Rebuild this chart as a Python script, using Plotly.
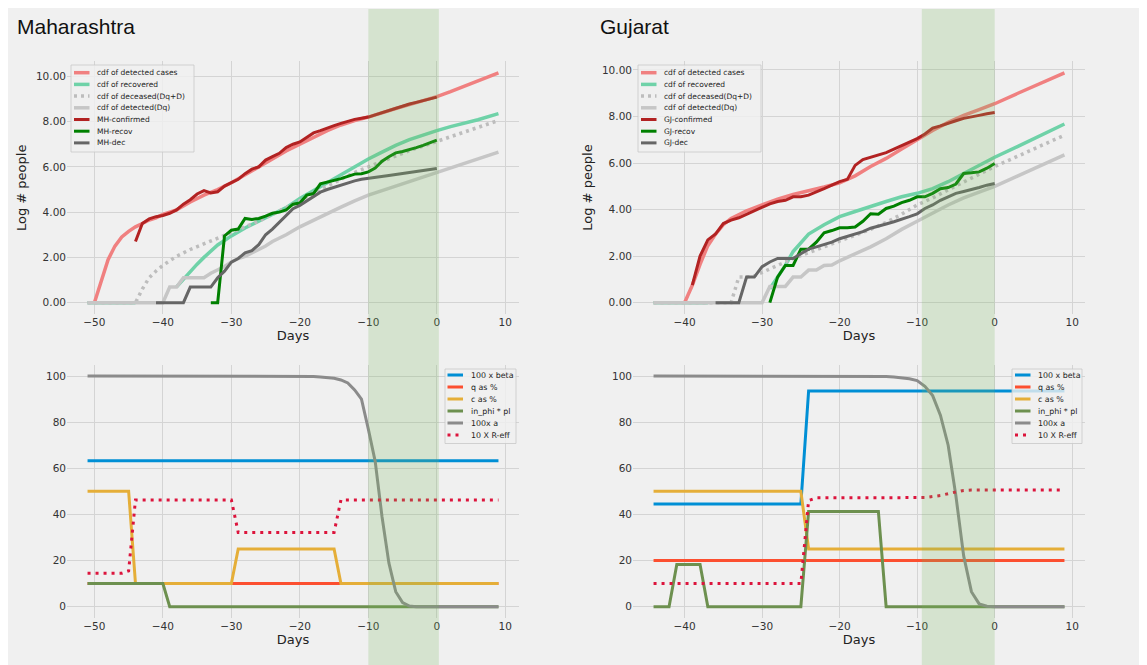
import plotly.graph_objects as go

# The page body has an 8px margin; the figure is laid out in page pixels and shifted by it.
OFF = 8
W, H = 1134, 657
BG = "#f0f0f0"
FONT = "DejaVu Sans"
TXT = "#333333"

# ------------------------------------------------------------------ data
# ---- Maharashtra, top (log # people)
mh_cases_x = [-50, -49, -48, -47, -46, -45, -44, -43, -42, -41, -40, -38, -36, -34, -32, -30, -28, -26, -24, -22,
              -20, -18, -16, -14, -12, -10, -8, -6, -4, -2, 0, 2, 4, 6, 9]
mh_cases_y = [0, 1.0, 1.9, 2.5, 2.9, 3.15, 3.35, 3.5, 3.65, 3.75, 3.9, 4.1, 4.45, 4.75, 5.0, 5.3, 5.65, 6.0, 6.35, 6.7,
              7.0, 7.3, 7.6, 7.85, 8.05, 8.2, 8.4, 8.58, 8.75, 8.92, 9.1, 9.32, 9.55, 9.78, 10.15]

mh_recovered_x = [-51, -44, None, -38, -37, -36, -35, -34, -33, -32, -31, -30, -28, -26, -24, -22, -20, -18, -16,
                  -14, -12, -10, -8, -6, -4, -2, 0, 2, 4, 6, 9]
mh_recovered_y = [0, 0, None, 0.7, 1.05, 1.4, 1.7, 2.0, 2.3, 2.55, 2.75, 2.95, 3.3, 3.6, 3.9, 4.2, 4.6, 4.95, 5.3,
                  5.65, 6.0, 6.35, 6.65, 6.95, 7.2, 7.42, 7.6, 7.78, 7.93, 8.08, 8.35]

mh_deceased_x = [-51, -44, -43, -42, -41, -40, -39, -38, -36, -34, -32, -30, -28, -26, -24, -22, -20, -18, -16, -14,
                 -12, -10, -8, -6, -4, -2, 0, 3, 6, 9]
mh_deceased_y = [0, 0, 0.6, 1.1, 1.4, 1.65, 1.85, 2.05, 2.35, 2.6, 2.85, 3.1, 3.35, 3.6, 3.9, 4.2, 4.5, 4.85, 5.15, 5.45,
                 5.75, 6.0, 6.25, 6.5, 6.72, 6.92, 7.12, 7.45, 7.75, 8.05]

mh_dq_x = [-51, -40, -39, -38, -37, -34, -33, -32, -31, -30, -29, -28, -27, -26, -25, -24, -22, -20, -18, -16, -14,
           -12, -10, -8, -6, -4, -2, 0, 3, 6, 9]
mh_dq_y = [0, 0, 0.69, 0.69, 1.1, 1.1, 1.3, 1.45, 1.6, 1.8, 1.95, 2.05, 2.2, 2.35, 2.5, 2.7, 3.0, 3.35, 3.65, 3.95, 4.22,
           4.5, 4.75, 4.95, 5.15, 5.35, 5.53, 5.71, 6.03, 6.34, 6.65]

mh_confirmed_x = list(range(-44, 1))
mh_confirmed_y = [2.7, 3.5, 3.7, 3.8, 3.85, 3.95, 4.1, 4.35, 4.55, 4.8, 4.95, 4.85, 4.9, 5.15, 5.3, 5.45, 5.7, 5.9,
                  6.0, 6.3, 6.45, 6.6, 6.85, 7.0, 7.1, 7.3, 7.5, 7.6, 7.72, 7.82, 7.92, 8.02, 8.1, 8.15, 8.2, 8.3,
                  8.4, 8.5, 8.6, 8.7, 8.78, 8.85, 8.93, 9.0, 9.08]

mh_recov_x = list(range(-33, 1))
mh_recov_y = [0, 0, 2.95, 3.2, 3.25, 3.72, 3.68, 3.72, 3.82, 3.95, 4.0, 4.1, 4.35, 4.4, 4.75, 4.82, 5.25, 5.32, 5.38,
              5.48, 5.58, 5.68, 5.7, 5.78, 5.95, 6.25, 6.45, 6.62, 6.68, 6.75, 6.85, 6.95, 7.08, 7.18]

mh_dec_x = list(range(-41, 1))
mh_dec_y = [0, 0, 0, 0, 0, 0.69, 0.69, 0.69, 0.69, 1.1, 1.39, 1.79, 1.95, 2.2, 2.3, 2.56, 3.0, 3.25, 3.55, 3.88,
            4.15, 4.3, 4.5, 4.7, 4.88, 5.0, 5.1, 5.2, 5.3, 5.38, 5.45, 5.5, 5.53, 5.57, 5.62, 5.66, 5.7, 5.75, 5.8,
            5.85, 5.89, 5.93]

# ---- Gujarat, top (log # people)
gj_cases_x = [-40, -39, -38, -37, -36, -35, -34, -33, -32, -30, -28, -26, -24, -22, -20, -18, -16, -14, -12, -10, -8,
              -6, -4, -2, 0, 3, 6, 9]
gj_cases_y = [0, 0.75, 1.65, 2.45, 2.95, 3.35, 3.62, 3.8, 3.95, 4.2, 4.45, 4.65, 4.8, 4.97, 5.15, 5.45, 5.85, 6.2,
              6.6, 7.0, 7.4, 7.75, 8.05, 8.3, 8.55, 9.0, 9.45, 9.88]

gj_recovered_x = [-44, -37, None, -29, -28, -27, -26, -25, -24, -22, -20, -18, -16, -14, -12, -10, -8, -6, -4, -2, 0,
                  3, 6, 9]
gj_recovered_y = [0, 0, None, 0.6, 1.1, 1.6, 2.2, 2.6, 2.95, 3.35, 3.7, 3.92, 4.15, 4.35, 4.55, 4.7, 4.9, 5.2, 5.55,
                  5.9, 6.25, 6.72, 7.2, 7.68]

gj_deceased_x = [-44, -34, -33, -32, -31, -30, -29, -28, -27, -26, -24, -22, -20, -18, -16, -14, -12, -10, -8, -6, -4,
                 -2, 0, 3, 6, 9]
gj_deceased_y = [0, 0, 1.1, 1.1, 1.15, 1.3, 1.45, 1.6, 1.75, 1.9, 2.15, 2.4, 2.65, 2.9, 3.15, 3.45, 3.8, 4.2, 4.5,
                 4.85, 5.2, 5.52, 5.85, 6.3, 6.75, 7.2]

gj_dq_x = [-44, -30, -29, -28, -27, -26, -25, -24, -23, -22, -21, -20, -18, -16, -14, -12, -10, -8, -6, -4, -2, 0, 3,
           6, 9]
gj_dq_y = [0, 0, 0.7, 0.7, 0.7, 1.1, 1.1, 1.4, 1.4, 1.6, 1.62, 1.8, 2.1, 2.4, 2.75, 3.15, 3.5, 3.85, 4.2, 4.5, 4.75,
           5.0, 5.45, 5.9, 6.35]

gj_confirmed_x = list(range(-39, 1))
gj_confirmed_y = [0.75, 2.0, 2.7, 2.95, 3.4, 3.55, 3.65, 3.8, 3.95, 4.1, 4.25, 4.35, 4.4, 4.55, 4.55, 4.62, 4.75,
                  4.9, 5.05, 5.2, 5.3, 5.9, 6.15, 6.25, 6.35, 6.45, 6.6, 6.75, 6.9, 7.05, 7.25, 7.5, 7.6, 7.72,
                  7.82, 7.92, 8.0, 8.05, 8.12, 8.17]

gj_recov_x = list(range(-29, 1))
gj_recov_y = [0, 1.1, 1.6, 1.6, 2.3, 2.3, 2.6, 3.0, 3.1, 3.22, 3.22, 3.25, 3.5, 3.82, 3.8, 4.05, 4.15, 4.3, 4.4, 4.55,
              4.55, 4.7, 4.9, 4.95, 5.1, 5.55, 5.58, 5.62, 5.78, 5.98]

gj_dec_x = list(range(-36, 1))
gj_dec_y = [0, 0, 0, 0, 1.1, 1.1, 1.55, 1.75, 1.9, 1.9, 1.9, 2.1, 2.3, 2.4, 2.5, 2.6, 2.75, 2.85, 2.95, 3.05, 3.2,
            3.28, 3.38, 3.48, 3.58, 3.7, 3.82, 4.05, 4.2, 4.4, 4.55, 4.7, 4.78, 4.85, 4.95, 5.05, 5.12]

# ---- Maharashtra, bottom (parameters)
mh_beta_x, mh_beta_y = [-51, 9], [63.3, 63.3]
mh_q_x, mh_q_y = [-51, 9], [10, 10]
mh_c_x = [-51, -45, -44, -30, -29, -15, -14, 9]
mh_c_y = [50, 50, 10, 10, 25, 25, 10, 10]
mh_phi_x = [-51, -40, -39, 9]
mh_phi_y = [10, 10, 0, 0]
mh_a_x = [-51, -20, -19, -18, -17, -16, -15, -14, -13, -12, -11, -10, -9, -8, -7, -6, -5, -4, -3, 9]
mh_a_y = [100, 100, 99.9, 99.8, 99.6, 99.4, 99.0, 98.3, 97, 94, 90, 77, 63, 39, 19, 6.5, 1.8, 0.3, 0, 0]
mh_r_x = [-51, -46, -45, -44, -30, -29, -15, -14, 9]
mh_r_y = [14.5, 14.5, 15.5, 46.3, 46.3, 32.2, 32.2, 46.3, 46.3]

# ---- Gujarat, bottom (parameters)
gj_beta_x, gj_beta_y = [-44, -25, -24, 9], [44.5, 44.5, 93.5, 93.5]
gj_q_x, gj_q_y = [-44, 9], [20, 20]
gj_c_x, gj_c_y = [-44, -25, -24, 9], [50, 50, 25, 25]
gj_phi_x = [-44, -42, -41, -38, -37, -25, -24, -15, -14, 9]
gj_phi_y = [0, 0, 18.3, 18.3, 0, 0, 41.3, 41.3, 0, 0]
gj_a_x = [-44, -16, -15, -14, -13, -12, -11, -10, -9, -8, -7, -6, -5, -4, -3, -2, -1, 0, 9]
gj_a_y = [100, 100, 99.9, 99.8, 99.6, 99.3, 98.8, 98, 95.5, 91.5, 83, 70, 48, 22, 6.5, 1.2, 0.2, 0, 0]
gj_r_x = [-44, -25, -24, -23, -9, -8, -7, -6, -5, -4, -3, 9]
gj_r_y = [10, 10, 46, 47.2, 47.3, 47.6, 48.2, 49, 49.8, 50.4, 50.6, 50.6]

# shaded windows (days)
mh_window = [-10, 0.3]
gj_window = [-9.4, 0]

# legend labels
top_labels_common = ["cdf of detected cases", "cdf of recovered", "cdf of deceased(Dq+D)", "cdf of detected(Dq)"]
mh_top_labels = top_labels_common + ["MH-confirmed", "MH-recov", "MH-dec"]
gj_top_labels = top_labels_common + ["GJ-confirmed", "GJ-recov", "GJ-dec"]
bottom_labels = ["100 x beta", "q as %", "c as %", "in_phi * pl", "100x a", "10 X R-eff"]

# ------------------------------------------------------------------ styles
TOP_STYLES = [("#f08080", 3.5, "solid"), ("#6fd2a8", 3.5, "solid"), ("#bdbdbd", 3.5, "3px,4px"),
              ("#c6c6c6", 3.5, "solid"), ("#b22222", 3, "solid"), ("#008000", 3, "solid"),
              ("#666666", 3, "solid")]
BOT_STYLES = [("#008fd5", 3, "solid"), ("#fc4f30", 3, "solid"), ("#e5ae38", 3, "solid"),
              ("#6d904f", 3, "solid"), ("#8b8b8b", 3, "solid"), ("#dc143c", 3, "3px,5px")]

fig = go.Figure()


def add_series(xs, ys, style, xa, ya):
    color, width, dash = style
    fig.add_trace(go.Scatter(x=xs, y=ys, mode="lines", xaxis=xa, yaxis=ya, showlegend=False,
                             hoverinfo="skip", line=dict(color=color, width=width, dash=dash)))


top_mh = [(mh_cases_x, mh_cases_y), (mh_recovered_x, mh_recovered_y), (mh_deceased_x, mh_deceased_y),
          (mh_dq_x, mh_dq_y), (mh_confirmed_x, mh_confirmed_y), (mh_recov_x, mh_recov_y), (mh_dec_x, mh_dec_y)]
top_gj = [(gj_cases_x, gj_cases_y), (gj_recovered_x, gj_recovered_y), (gj_deceased_x, gj_deceased_y),
          (gj_dq_x, gj_dq_y), (gj_confirmed_x, gj_confirmed_y), (gj_recov_x, gj_recov_y), (gj_dec_x, gj_dec_y)]
bot_mh = [(mh_beta_x, mh_beta_y), (mh_q_x, mh_q_y), (mh_c_x, mh_c_y), (mh_phi_x, mh_phi_y), (mh_a_x, mh_a_y),
          (mh_r_x, mh_r_y)]
bot_gj = [(gj_beta_x, gj_beta_y), (gj_q_x, gj_q_y), (gj_c_x, gj_c_y), (gj_phi_x, gj_phi_y), (gj_a_x, gj_a_y),
          (gj_r_x, gj_r_y)]

for (xs, ys), st in zip(top_mh, TOP_STYLES):
    add_series(xs, ys, st, "x", "y")
for (xs, ys), st in zip(top_gj, TOP_STYLES):
    add_series(xs, ys, st, "x2", "y2")
for (xs, ys), st in zip(bot_mh, BOT_STYLES):
    add_series(xs, ys, st, "x3", "y3")
for (xs, ys), st in zip(bot_gj, BOT_STYLES):
    add_series(xs, ys, st, "x4", "y4")


# ------------------------------------------------------------------ layout (page-pixel geometry)
def px(p):
    return (p - OFF) / W


def py(p):
    return 1 - (p - OFF) / H


tickfont = dict(family=FONT, size=10.5, color=TXT)
titlefont = dict(family=FONT, size=13, color="#222222")
grid = dict(showgrid=True, gridcolor="#d4d4d4", gridwidth=1, zeroline=False, showline=False,
            ticks="", tickfont=tickfont)

panels = [
    # x-domain px, y-domain px, x-range, y-range, ytickformat, ytitle
    ((67, 519), (61.4, 314.2), [-54, 12], [-0.51, 10.66], ".2f", "Log # people"),
    ((633, 1085), (60.8, 314.2), [-46.65, 11.65], [-0.495, 10.395], ".2f", "Log # people"),
    ((67, 519), (364.5, 618.2), [-54, 12], [-5, 105], "d", None),
    ((633, 1085), (364.5, 618.2), [-46.65, 11.65], [-5, 105], "d", None),
]
for i, (xd, yd, xr, yr, yfmt, ytitle) in enumerate(panels, start=1):
    sfx = "" if i == 1 else str(i)
    fig.layout["xaxis" + sfx] = dict(domain=[px(xd[0]), px(xd[1])], range=xr, anchor="y" + sfx, dtick=10,
                                    tick0=0, title=dict(text="Days", font=titlefont, standoff=3), **grid)
    ydict = dict(domain=[py(yd[1]), py(yd[0])], range=yr, anchor="x" + sfx, tickformat=yfmt,
                 dtick=20 if yfmt == "d" else 2, **grid)
    if ytitle:
        ydict["title"] = dict(text=ytitle, font=titlefont, standoff=6)
    fig.layout["yaxis" + sfx] = ydict

shapes = []
# shaded windows
SPLIT = 345
band_fill = "rgba(120,180,90,0.22)"
for xref, win, top, bottom in [("x", mh_window, 9, SPLIT), ("x2", gj_window, 9, SPLIT),
                               ("x3", mh_window, SPLIT, 665), ("x4", gj_window, SPLIT, 665)]:
    shapes.append(dict(type="rect", xref=xref, yref="paper", x0=win[0], x1=win[1], y0=py(bottom),
                       y1=py(top), fillcolor=band_fill, line=dict(width=0), layer="above"))

annotations = []


def add_legend(labels, styles, box, sym, text_x, row0, dy, fsize):
    bx0, bx1, by0, by1 = box
    shapes.append(dict(type="rect", xref="paper", yref="paper", x0=px(bx0), x1=px(bx1), y0=py(by1),
                       y1=py(by0), fillcolor="rgba(240,240,240,0.8)",
                       line=dict(color="rgba(200,200,200,0.8)", width=1), layer="above"))
    for k, (lab, (color, width, dash)) in enumerate(zip(labels, styles)):
        yy = row0 + k * dy
        shapes.append(dict(type="line", xref="paper", yref="paper", x0=px(sym[0]), x1=px(sym[1]),
                           y0=py(yy), y1=py(yy), line=dict(color=color, width=width, dash=dash),
                           layer="above"))
        annotations.append(dict(text=lab, x=px(text_x), y=py(yy), xref="paper", yref="paper",
                                xanchor="left", yanchor="middle", showarrow=False,
                                font=dict(family=FONT, size=fsize, color="#222222")))


add_legend(mh_top_labels, TOP_STYLES, (71, 194, 65, 152), (74, 89.5), 95, 72.7, 11.7, 7.5)
add_legend(gj_top_labels, TOP_STYLES, (638, 761, 65, 152), (641, 656.5), 662, 72.7, 11.7, 7.5)
add_legend(bottom_labels, BOT_STYLES, (445, 516, 369, 443.5), (447.5, 463), 469, 375, 12, 7.9)
add_legend(bottom_labels, BOT_STYLES, (1012, 1082, 369, 443.5), (1015, 1030.5), 1036, 375, 12, 7.9)

# panel titles
for txt, x in [("Maharashtra", 15), ("Gujarat", 598)]:
    annotations.append(dict(text=txt, x=px(x), y=py(26), xref="paper", yref="paper", xanchor="left",
                            yanchor="middle", showarrow=False,
                            font=dict(family="Liberation Sans", size=21, color="#111111")))

fig.update_layout(width=W, height=H, margin=dict(l=0, r=0, t=0, b=0, pad=0),
                  paper_bgcolor=BG, plot_bgcolor=BG, showlegend=False,
                  font=dict(family=FONT, color=TXT), shapes=shapes, annotations=annotations,
                  template="none")

fig.write_html("out.html")
